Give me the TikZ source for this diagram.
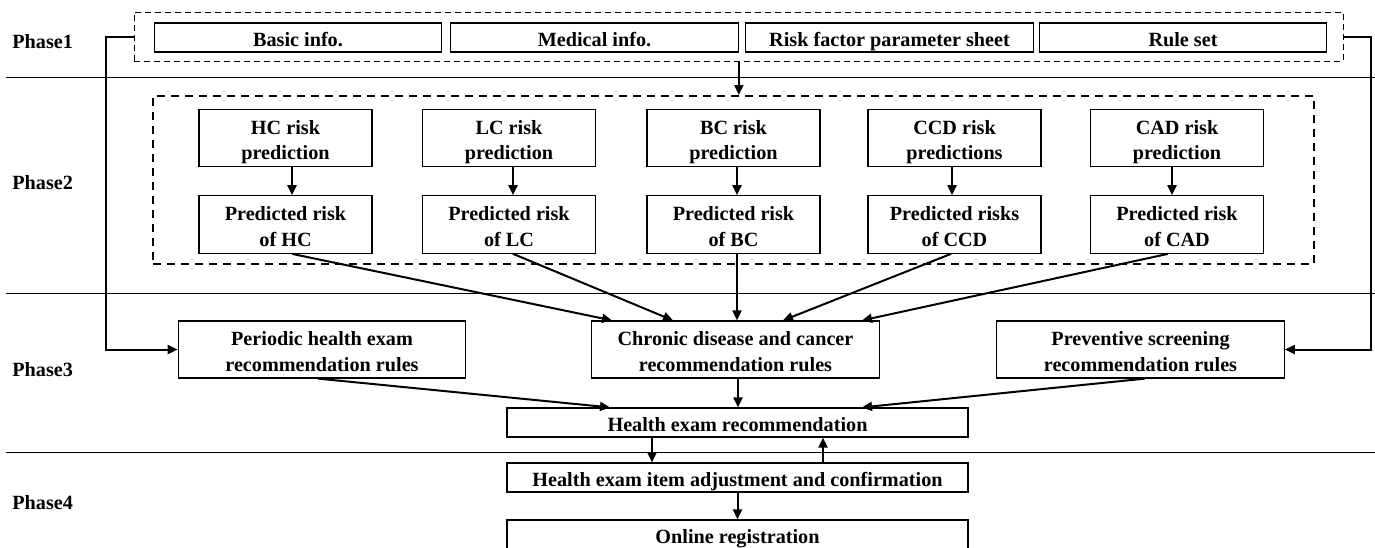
\documentclass[tikz,border=0pt]{standalone}
\usepackage{fontspec}
\setmainfont{Liberation Serif}
\usetikzlibrary{arrows.meta}
\begin{document}
\begin{tikzpicture}[x=0.5pt,y=-0.5pt,
  every node/.style={font=\bfseries\fontsize{10.1}{12.6}\selectfont},
  box/.style={draw, line width=0.6pt, inner sep=0pt, align=center},
  oneline/.style={text height=10.2pt, text depth=1pt},
  twoline/.style={text height=22.5pt, text depth=1pt},
  riskbox/.style={box, twoline, minimum width=86.5pt, minimum height=28.75pt},
  rulebox/.style={box, twoline, minimum width=143.75pt, minimum height=28.5pt},
  infobox/.style={box, oneline, minimum width=143.75pt, minimum height=14.5pt},
  widebox/.style={box, oneline, minimum width=230.5pt, minimum height=14.5pt},
  group1/.style={draw, line width=0.5pt, dash pattern=on 3pt off 2pt, inner sep=0pt},
  group2/.style={draw, line width=1pt, dash pattern=on 4.2pt off 2.8pt, inner sep=0pt},
  arr/.style={line width=1pt, -{Triangle[length=5pt,width=4.5pt]}},
  sep/.style={line width=0.5pt},
  phase/.style={anchor=west, inner sep=0pt}]
\useasboundingbox (0,0) rectangle (1375,547);

% phase separators
\coordinate (s1a) at (6,77);    \coordinate (s1b) at (1375,77);
\coordinate (s2a) at (6,293);   \coordinate (s2b) at (1375,293);
\coordinate (s3a) at (6,452);   \coordinate (s3b) at (1375,452);
\draw[sep] (s1a) -- (s1b);
\draw[sep] (s2a) -- (s2b);
\draw[sep] (s3a) -- (s3b);

% phase labels
\node[phase] (ph1) at (12,42) {Phase1};
\node[phase] (ph2) at (12,183) {Phase2};
\node[phase] (ph3) at (12,370) {Phase3};
\node[phase] (ph4) at (12,503) {Phase4};

% phase 1: input data
\node[group1, minimum width=604.5pt, minimum height=24.5pt] (p1) at (738.5,36.5) {};
\node[infobox] (basic)   at (298,37.5)   {Basic info.};
\node[infobox] (medical) at (594.5,37.5) {Medical info.};
\node[infobox] (riskf)   at (889.5,37.5) {Risk factor parameter sheet};
\node[infobox] (rules)   at (1183,37.5)  {Rule set};

% phase 2: risk prediction models
\node[group2, minimum width=580.5pt, minimum height=84pt] (p2) at (733.5,180) {};
\node[riskbox] (hcr)  at (285.5,138)  {HC risk\\prediction};
\node[riskbox] (lcr)  at (509,138)    {LC risk\\prediction};
\node[riskbox] (bcr)  at (733.5,138)  {BC risk\\prediction};
\node[riskbox] (ccdr) at (954.5,138)  {CCD risk\\predictions};
\node[riskbox] (cadr) at (1177,138)   {CAD risk\\prediction};
\node[riskbox] (hcp)  at (285.5,224.5) {Predicted risk\\of HC};
\node[riskbox] (lcp)  at (509,224.5)   {Predicted risk\\of LC};
\node[riskbox] (bcp)  at (733.5,224.5) {Predicted risk\\of BC};
\node[riskbox] (ccdp) at (954.5,224.5) {Predicted risks\\of CCD};
\node[riskbox] (cadp) at (1177,224.5)  {Predicted risk\\of CAD};

% phase 3: recommendation rules
\node[rulebox] (periodic)   at (322,349.5)    {Periodic health exam\\recommendation rules};
\node[rulebox] (chronic)    at (735.5,349.5)  {Chronic disease and cancer\\recommendation rules};
\node[rulebox] (preventive) at (1140.5,349.5) {Preventive screening\\recommendation rules};
\node[widebox] (her) at (737.5,422.5) {Health exam recommendation};

% phase 4: confirmation
\node[widebox] (adjust) at (737.5,477.5) {Health exam item adjustment and confirmation};
\node[widebox] (online) at (737.5,534.5) {Online registration};

% connectors
\draw[arr] (medical.east |- p1.south) -- (medical.east |- p2.north);
\foreach \a/\b/\s in {hcr/hcp/3.25pt, lcr/lcp/2pt, bcr/bcp/1.75pt, ccdr/ccdp/-1.25pt, cadr/cadp/-2.5pt}
  \draw[arr] ([xshift=\s]\a.south) -- ([xshift=\s]\b.north);
\draw[arr] ([xshift=3.25pt]hcp.south)  -- ([xshift=-61.75pt]chronic.north);
\draw[arr] ([xshift=2pt]lcp.south)     -- ([xshift=-31.25pt]chronic.north);
\draw[arr] ([xshift=1.75pt]bcp.south)  -- ([xshift=0.75pt]chronic.north);
\draw[arr] ([xshift=-1.75pt]ccdp.south) -- ([xshift=23.75pt]chronic.north);
\draw[arr] ([xshift=-4.5pt]cadp.south) -- ([xshift=63.25pt]chronic.north);
\draw[arr] (p1.west) -- ++(-28,0) |- (periodic.west);
\draw[arr] (p1.east) -- ++(27,0) |- (preventive.east);
\draw[arr] ([xshift=-2pt]periodic.south) -- ([xshift=-63.75pt]her.north);
\draw[arr] ([xshift=1.25pt]chronic.south) -- ([xshift=0.25pt]her.north);
\draw[arr] ([xshift=2.25pt]preventive.south) -- ([xshift=62.25pt]her.north);
\draw[arr] ([xshift=-42.75pt]her.south) -- ([xshift=-42.75pt]adjust.north);
\draw[arr] ([xshift=42.75pt]adjust.north) -- ([xshift=42.75pt]her.south);
\draw[arr] (adjust.south) -- (online.north);
\end{tikzpicture}
\end{document}
